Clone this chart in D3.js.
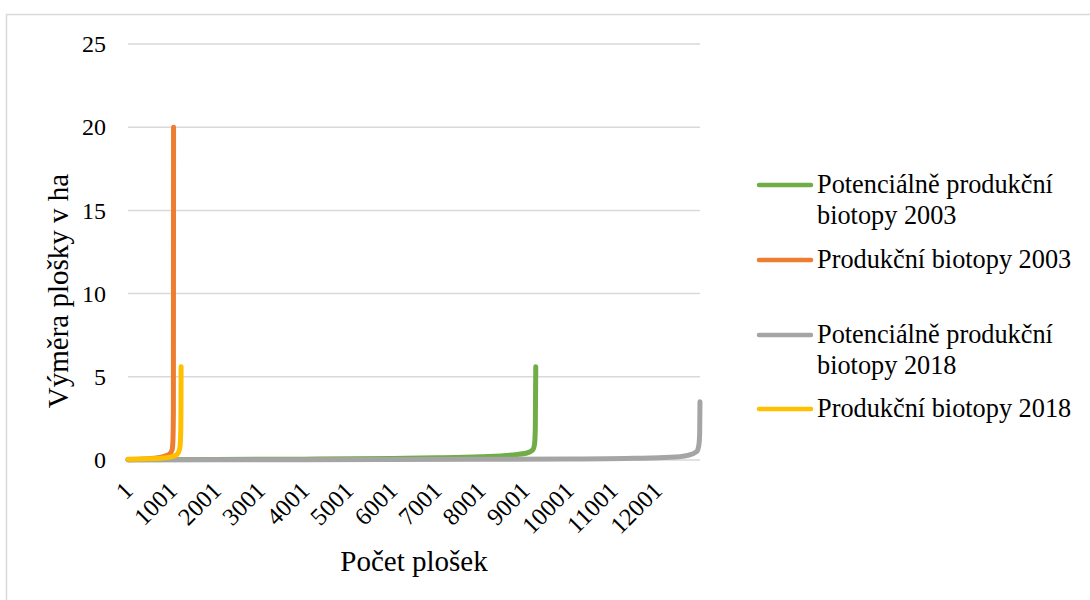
<!DOCTYPE html>
<html>
<head>
<meta charset="utf-8">
<script src="https://cdn.jsdelivr.net/npm/d3@7"></script>
<style>
  html, body { margin: 0; padding: 0; background: #fff; }
  svg { display: block; }
  text { font-family: "Liberation Serif", "Times New Roman", serif; fill: #000; }
</style>
</head>
<body>
<svg id="chart" width="1090" height="600"></svg>
<script>
// ---- data (sorted patch areas, anchor points: [patch index, ha]) ----
const seriesNames = [
  "Potenciálně produkční biotopy 2003",
  "Produkční biotopy 2003",
  "Potenciálně produkční biotopy 2018",
  "Produkční biotopy 2018"
];
const potencialni2003 = [[1,0.02],[2000,0.03],[4000,0.05],[6000,0.09],[7000,0.13],[8000,0.2],[8700,0.3],[9050,0.42],[9180,0.6],[9225,1.0],[9240,2.0],[9250,5.6]];
const produkcni2003 = [[1,0.02],[300,0.05],[600,0.1],[800,0.2],[940,0.35],[1000,0.6],[1020,1.2],[1030,3.0],[1034,20.0]];
const potencialni2018 = [[1,0.01],[4000,0.02],[8000,0.04],[10000,0.06],[11500,0.1],[12300,0.16],[12700,0.28],[12900,0.5],[12950,0.9],[12968,1.6],[12975,3.5]];
const produkcni2018 = [[1,0.05],[400,0.07],[800,0.12],[1000,0.2],[1120,0.35],[1175,0.7],[1195,1.5],[1202,3.0],[1205,5.6]];
const seriesColors = ["#70AD47", "#ED7D31", "#A5A5A5", "#FFC000"];
const xTickLabels = ["1","1001","2001","3001","4001","5001","6001","7001","8001","9001","10001","11001","12001"];
const yTicks = [0, 5, 10, 15, 20, 25];
const xTitle = "Počet plošek";
const yTitle = "Výměra plošky v ha";
const totalPatches = 12975;

// ---- drawing ----
const svg = d3.select("#chart");
const plotLeft = 128, plotRight = 700, plotTop = 44, plotBottom = 460;

// chart area border
svg.append("rect")
  .attr("x", 6.5).attr("y", 14.5).attr("width", 1200).attr("height", 700)
  .attr("fill", "none").attr("stroke", "#d9d9d9").attr("stroke-width", 1.5);

const x = d3.scaleLinear().domain([0.5, totalPatches + 0.5]).range([plotLeft, plotRight]);
const y = d3.scaleLinear().domain([0, 25]).range([plotBottom, plotTop]);

// gridlines
svg.append("g").selectAll("line").data(yTicks).join("line")
  .attr("x1", plotLeft).attr("x2", plotRight)
  .attr("y1", d => y(d)).attr("y2", d => y(d))
  .attr("stroke", "#d9d9d9").attr("stroke-width", 1.5);

// y axis labels
const yAxis = d3.axisLeft(y).tickValues(yTicks).tickSize(0).tickPadding(0);
const gy = svg.append("g").attr("transform", `translate(${plotLeft - 22},0)`).call(yAxis);
gy.select(".domain").remove();
gy.selectAll("text").attr("font-size", 24).attr("font-family", "Liberation Serif").attr("fill", "#000");

// x axis labels (rotated)
const xTickVals = xTickLabels.map(d => +d);
const xAxis = d3.axisBottom(x).tickValues(xTickVals).tickFormat((d, i) => xTickLabels[i]).tickSize(0).tickPadding(0);
const gx = svg.append("g").attr("transform", `translate(0,${plotBottom})`).call(xAxis);
gx.select(".domain").remove();
gx.selectAll("text")
  .attr("font-size", 24.5).attr("font-family", "Liberation Serif").attr("fill", "#000")
  .attr("text-anchor", "end").attr("dy", 0).attr("y", 0)
  .attr("transform", "translate(6,32) rotate(-45)");

// series
const allSeries = [potencialni2003, produkcni2003, potencialni2018, produkcni2018];
const line = d3.line().x(d => x(d[0])).y(d => y(d[1])).curve(d3.curveMonotoneX);
svg.append("g").selectAll("path").data(allSeries).join("path")
  .attr("d", line)
  .attr("fill", "none")
  .attr("stroke", (d, i) => seriesColors[i])
  .attr("stroke-width", 5)
  .attr("stroke-linecap", "round")
  .attr("stroke-linejoin", "round");

// axis titles
svg.append("text").attr("x", (plotLeft + plotRight) / 2).attr("y", 571)
  .attr("text-anchor", "middle").attr("font-size", 29).text(xTitle);
svg.append("text").attr("transform", "translate(68,291) rotate(-90)")
  .attr("text-anchor", "middle").attr("font-size", 29).text(yTitle);

// legend
const legendItems = [
  { lines: ["Potenciálně produkční", "biotopy 2003"], y: 185 },
  { lines: ["Produkční biotopy 2003"], y: 260 },
  { lines: ["Potenciálně produkční", "biotopy 2018"], y: 335 },
  { lines: ["Produkční biotopy 2018"], y: 409 }
];
const lg = svg.append("g");
legendItems.forEach((item, i) => {
  lg.append("line")
    .attr("x1", 759).attr("x2", 811).attr("y1", item.y).attr("y2", item.y)
    .attr("stroke", seriesColors[i]).attr("stroke-width", 4.5).attr("stroke-linecap", "round");
  const t = lg.append("text").attr("x", 817).attr("y", item.y + 8).attr("font-size", 26.3);
  item.lines.forEach((l, j) => {
    t.append("tspan").attr("x", 817).attr("dy", j === 0 ? 0 : 31).text(l);
  });
});
</script>
</body>
</html>
